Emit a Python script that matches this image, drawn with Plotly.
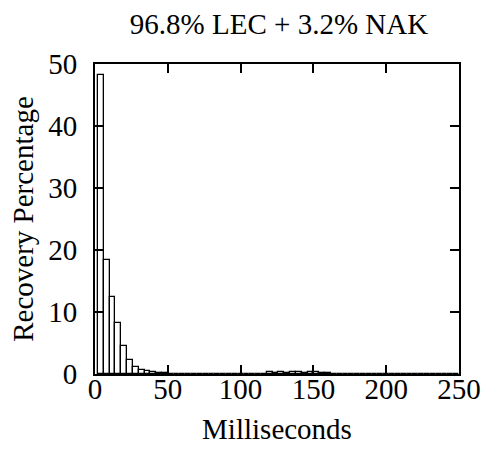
import plotly.graph_objects as go

# Histogram bin centers (ms), bin width 4 ms
bin_centers = [4 * k for k in range(1, 63)]
recovery_pct = [
    48.3, 18.4, 12.5, 8.2, 4.5, 2.2, 1.2, 0.7, 0.45, 0.3,   # 4..40
    0.15, 0.1, 0.05, 0.05, 0.03, 0, 0, 0, 0, 0,             # 44..80
    0, 0, 0, 0, 0, 0, 0, 0, 0.05, 0.25,                     # 84..120
    0.2, 0.25, 0.2, 0.25, 0.25, 0.2, 0.25, 0.25, 0.2, 0.15, # 124..160
    0.05, 0.05, 0.05, 0.05, 0.05, 0.05, 0.05, 0.05, 0.05, 0.05,
    0, 0, 0, 0, 0, 0, 0, 0, 0, 0, 0, 0,
]
recovery_pct = recovery_pct[:len(bin_centers)]

title_text = "96.8% LEC + 3.2% NAK"
x_title = "Milliseconds"
y_title = "Recovery Percentage"
x_ticks = [0, 50, 100, 150, 200, 250]
y_ticks = [0, 10, 20, 30, 40, 50]

FONT = "Liberation Serif"
FS = 29

fig = go.Figure(go.Bar(
    x=bin_centers, y=recovery_pct, width=4,
    marker=dict(color="white", line=dict(color="black", width=1.3)),
))

fig.update_layout(
    width=493, height=463,
    margin=dict(l=95, r=30, t=64, b=89),
    paper_bgcolor="white", plot_bgcolor="white",
    showlegend=False,
    font=dict(family=FONT, size=FS, color="black"),
    title=dict(text=title_text, x=(95 + 463) / 2 / 493, xanchor="center",
               y=1 - 24 / 463, yanchor="middle",
               font=dict(family=FONT, size=FS, color="black")),
    bargap=0,
)
fig.update_xaxes(
    range=[0, 250], tickvals=x_ticks, ticks="inside", ticklen=9,
    tickwidth=1.5, tickcolor="black", showline=True, linecolor="black",
    linewidth=2, mirror="ticks", showgrid=False, zeroline=False,
    ticklabelstandoff=-12,
    title=dict(text=x_title, standoff=15, font=dict(size=FS)),
    tickfont=dict(size=FS),
)
fig.update_yaxes(
    range=[0, 50], tickvals=y_ticks, ticks="inside", ticklen=9,
    tickwidth=1.5, tickcolor="black", showline=True, linecolor="black",
    linewidth=2, mirror="ticks", showgrid=False, zeroline=False,
    ticklabelstandoff=10,
    title=dict(text=y_title, standoff=6, font=dict(size=FS)),
    tickfont=dict(size=FS),
)

fig.write_html("out.html")
